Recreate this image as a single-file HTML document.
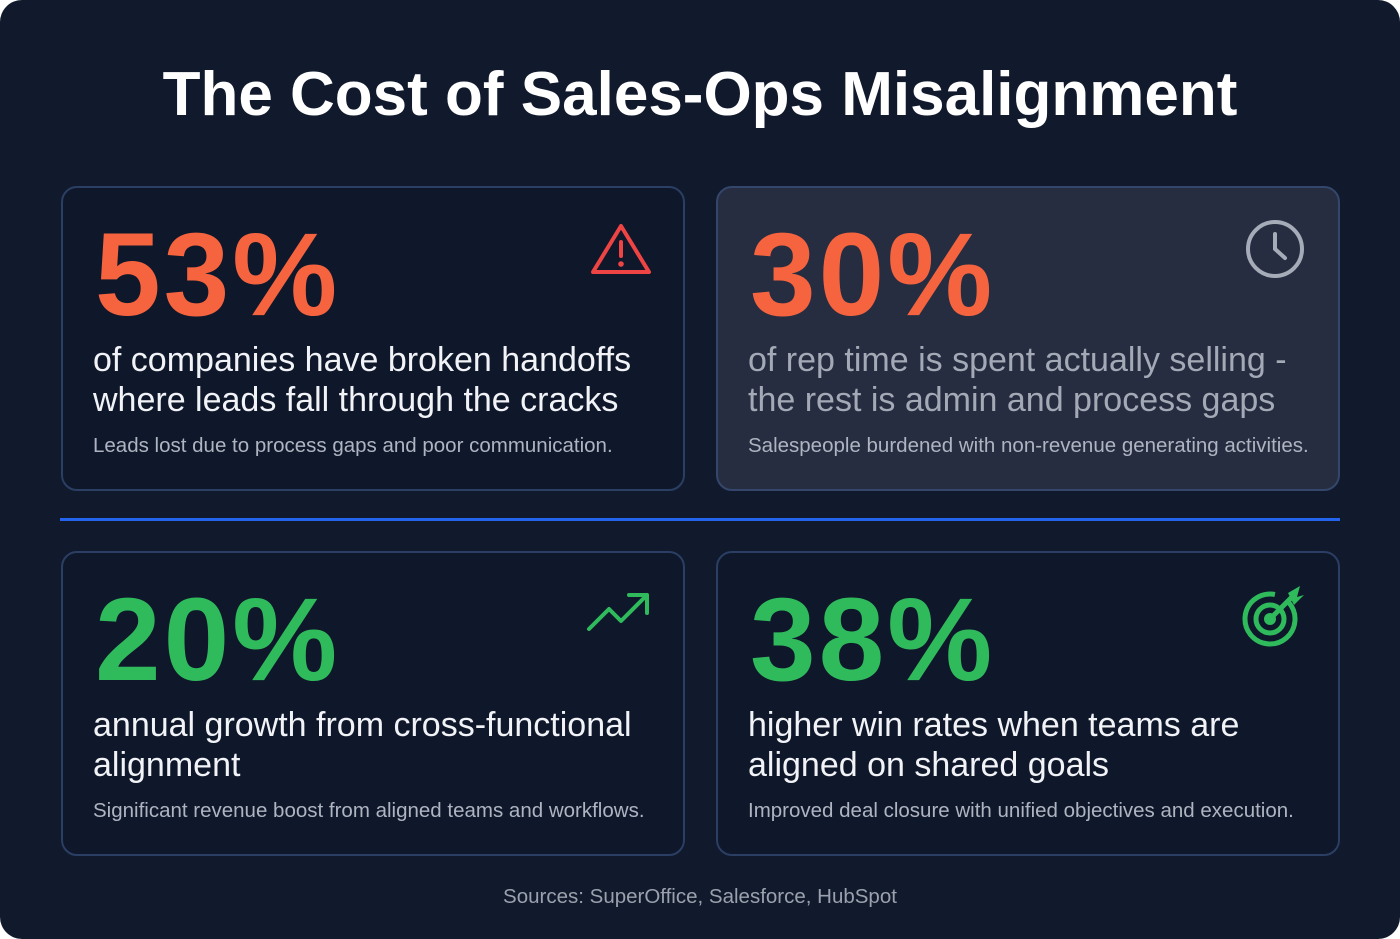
<!DOCTYPE html>
<html><head><meta charset="utf-8"><style>
html,body{margin:0;padding:0;background:#fff}
.page{position:relative;width:1400px;height:939px;background:#111a2c;border-radius:22px;overflow:hidden;font-family:"Liberation Sans",sans-serif;color:#fff}
h1{position:absolute;top:56px;left:0;width:1400px;text-align:center;margin:0;font-size:62px;font-weight:bold;letter-spacing:0px;line-height:78px}
.card{position:absolute;width:624px;height:305px;border:2px solid #2b3e63;border-radius:16px;background:#0f172a;box-sizing:border-box}
.card.l{background:#262d40;border-color:#34466b}
.num{position:absolute;left:32px;top:22px;font-size:118px;font-weight:bold;letter-spacing:3px;line-height:130px}
.red{color:#f6643f}.green{color:#2fbb5c}
.body{position:absolute;left:30px;top:152px;font-size:34px;line-height:40px;color:#f1f3f7}
.card.l .body{color:#a4a9b6}
.sm{position:absolute;left:30px;top:246px;font-size:20.5px;color:#aeb4c0}
.icon{position:absolute}
.div{position:absolute;left:60px;top:518px;width:1280px;height:3px;background:#2463eb}
.src{position:absolute;top:885px;width:1400px;text-align:center;font-size:20.5px;color:#9aa1ad}
</style></head><body><div class="page">
<h1>The Cost of Sales-Ops Misalignment</h1>
<div class="card" style="left:61px;top:186px">
<div class="num red">53%</div>
<svg class="icon" width="64" height="56" viewBox="0 0 64 56" style="right:30px;top:34px"><path d="M32 4 L60 50 H4 Z" fill="none" stroke="#ef4444" stroke-width="4" stroke-linejoin="round"/><line x1="32" y1="20" x2="32" y2="34" stroke="#ef4444" stroke-width="4" stroke-linecap="round"/><circle cx="32" cy="42" r="2.8" fill="#ef4444"/></svg>
<div class="body">of companies have broken handoffs<br>where leads fall through the cracks</div>
<div class="sm">Leads lost due to process gaps and poor communication.</div>
</div>
<div class="card l" style="left:716px;top:186px">
<div class="num red">30%</div>
<svg class="icon" width="62" height="62" viewBox="0 0 62 62" style="right:32px;top:30px"><circle cx="31" cy="31" r="27" fill="none" stroke="#a5acb8" stroke-width="4"/><path d="M31 16 V31 L41 40" fill="none" stroke="#a5acb8" stroke-width="4" stroke-linecap="round"/></svg>
<div class="body">of rep time is spent actually selling -<br>the rest is admin and process gaps</div>
<div class="sm">Salespeople burdened with non-revenue generating activities.</div>
</div>
<div class="div"></div>
<div class="card" style="left:61px;top:551px">
<div class="num green">20%</div>
<svg class="icon" width="68" height="44" viewBox="0 0 68 44" style="right:30px;top:38px"><path d="M4 38 L24 18 L36 30 L62 4 M44 4 H62 V22" fill="none" stroke="#2fbb5c" stroke-width="4" stroke-linecap="round" stroke-linejoin="round"/></svg>
<div class="body">annual growth from cross-functional<br>alignment</div>
<div class="sm">Significant revenue boost from aligned teams and workflows.</div>
</div>
<div class="card" style="left:716px;top:551px">
<div class="num green">38%</div>
<svg class="icon" width="64" height="64" viewBox="0 0 64 64" style="right:32px;top:30px"><circle cx="28" cy="36" r="25" fill="none" stroke="#2fbb5c" stroke-width="5" stroke-dasharray="140 17" transform="rotate(-40 28 36)"/><circle cx="28" cy="36" r="14" fill="none" stroke="#2fbb5c" stroke-width="5"/><circle cx="28" cy="36" r="6" fill="#2fbb5c"/><line x1="28" y1="36" x2="50" y2="14" stroke="#2fbb5c" stroke-width="5" stroke-linecap="round"/><path d="M46 10 L58 3 L55 14 L62 12 L52 22 Z" fill="#2fbb5c"/></svg>
<div class="body">higher win rates when teams are<br>aligned on shared goals</div>
<div class="sm">Improved deal closure with unified objectives and execution.</div>
</div>
<div class="src">Sources: SuperOffice, Salesforce, HubSpot</div>
</div></body></html>
